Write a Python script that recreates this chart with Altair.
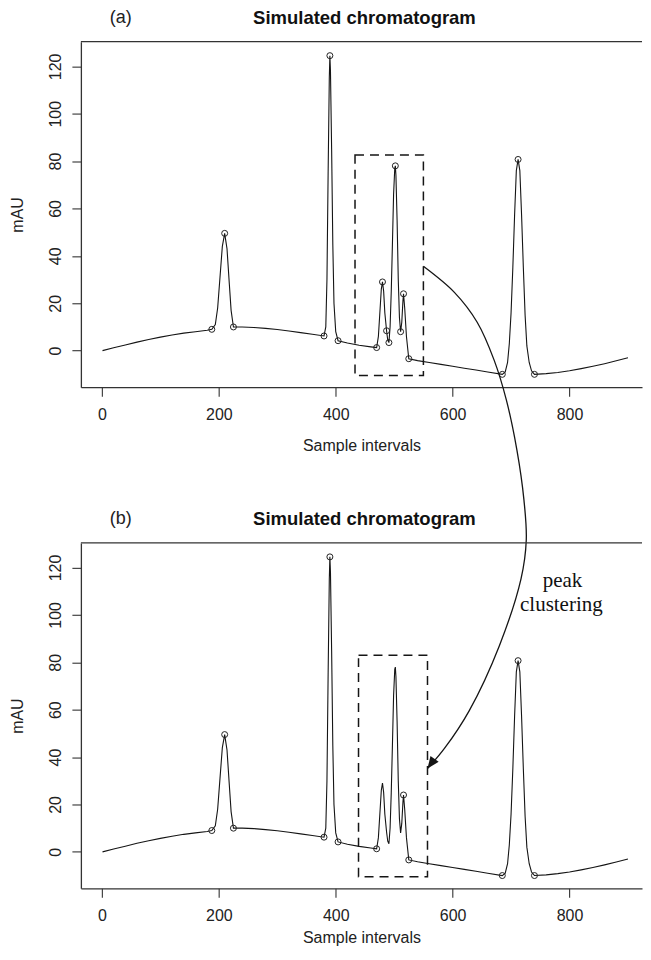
import altair as alt
import pandas as pd

# ---------------- data ----------------
# chromatogram trace (sample interval, mAU)
trace_x = [1, 20, 40, 60, 80, 100, 120, 140, 160, 180, 188,
           194, 198, 202, 206, 210, 214, 218, 221, 225,
           240, 260, 280, 300, 320, 340, 360, 380,
           383, 385, 387, 389, 390, 391, 393, 395, 397, 400, 404,
           420, 440, 460, 470,
           473, 476, 478, 480, 482, 484, 487, 489, 491, 493, 495, 497, 499, 501, 502,
           503, 505, 507, 509, 511, 513, 515, 516, 518, 521, 525,
           540, 560, 580, 600, 620, 640, 660, 685,
           690, 694, 697, 700, 703, 706, 709, 712, 715, 718, 721, 724, 727, 731, 735, 740,
           760, 780, 800, 820, 840, 860, 880, 900]
trace_y = [0.0, 1.2, 2.4, 3.6, 4.7, 5.7, 6.6, 7.4, 8.0, 8.6, 9.0,
           11, 18, 31, 44, 49.5, 43, 28, 17, 10,
           10.0, 9.8, 9.4, 8.9, 8.3, 7.6, 6.9, 6.2,
           10, 30, 75, 115, 124.5, 118, 85, 45, 20, 8, 4.2,
           3.2, 2.3, 1.6, 1.3,
           6, 18, 26, 29, 25, 16, 8.4, 4.5, 3.4, 10, 25, 45, 66, 77, 78,
           74, 55, 30, 14, 8, 12, 21, 24, 18, 6, -3.4,
           -4.2, -5.0, -5.8, -6.6, -7.4, -8.2, -9.0, -10.0,
           -9.0, -5, 3, 16, 35, 57, 76, 80.7, 76, 57, 35, 15, 2, -5, -8.5, -10.0,
           -9.7, -9.2, -8.5, -7.6, -6.6, -5.5, -4.3, -3.0]

# detected peak boundaries / apexes (circles)
circ_a_x = [188, 210, 225, 380, 390, 404, 470, 480, 487, 491, 502, 511, 516, 525, 685, 712, 740]
circ_a_y = [9.0, 49.5, 10.0, 6.2, 124.5, 4.2, 1.3, 29, 8.4, 3.4, 78, 8, 24, -3.4, -10, 80.7, -10]
circ_b_x = [188, 210, 225, 380, 390, 404, 470, 516, 525, 685, 712, 740]
circ_b_y = [9.0, 49.5, 10.0, 6.2, 124.5, 4.2, 1.3, 24, -3.4, -10, 80.7, -10]

# dashed boxes (x from, x to, y from, y to)
box_a = [433, 550, -10.5, 82.6]
box_b = [439, 557, -10.5, 83.0]

# curved arrow, in panel (a) data units (it runs down into panel b)
arrow_x = [550, 603, 642, 671, 692, 710, 722, 726, 717, 680, 628.5, 586, 557]
arrow_y = [35.6, 24.6, 12.0, -4.0, -20.9, -42.0, -63.0, -79.9, -96.3, -124.5, -151.9, -167.9, -176.4]

# annotation text (panel b data units)
ann_text = ["peak", "clustering"]
ann_x = [788, 786]
ann_y = [114.5, 104.0]

x_ticks = [0, 200, 400, 600, 800]
y_ticks = [0, 20, 40, 60, 80, 100, 120]
title_text = "Simulated chromatogram"

# ---------------- chart ----------------
W, H = 562, 346
FONT = "Liberation Sans"
INK = "#151515"
FRAME = "#333333"

xs = alt.Scale(domain=[-36, 924], nice=False, zero=False)
ys = alt.Scale(domain=[-15.4, 130.4], nice=False, zero=False)


def make_axes(title_y):
    ax_x = alt.Axis(values=x_ticks, title="Sample intervals", grid=False,
                    domain=True, domainColor=FRAME, domainWidth=1.3,
                    tickSize=9, tickColor=FRAME, tickWidth=1.1,
                    labelFont=FONT, labelFontSize=16, labelColor="#222", labelPadding=10,
                    titleFont=FONT, titleFontSize=16, titleFontWeight="normal", titleColor="#222",
                    titleY=title_y, titleBaseline="middle", labelFlush=False)
    ax_y = alt.Axis(values=y_ticks, title="mAU", grid=False,
                    domain=True, domainColor=FRAME, domainWidth=1.3,
                    tickSize=9, tickColor=FRAME, tickWidth=1.1,
                    labelFont=FONT, labelFontSize=16, labelColor="#222", labelPadding=8,
                    labelAngle=270, labelAlign="center", labelBaseline="bottom",
                    titleFont=FONT, titleFontSize=16, titleFontWeight="normal", titleColor="#222",
                    titleX=-63, titleY=H / 2, titleAngle=270, titleAlign="center",
                    titleBaseline="middle", labelFlush=False)
    return ax_x, ax_y


trace_df = pd.DataFrame({"x": trace_x, "y": trace_y})


def panel(tag, cx, cy, box, extra_fn, title_y):
    ax_x, ax_y = make_axes(title_y)

    def X(field="x"):
        return alt.X(f"{field}:Q", scale=xs, axis=ax_x)

    def Y(field="y"):
        return alt.Y(f"{field}:Q", scale=ys, axis=ax_y)

    line = alt.Chart(trace_df).mark_line(color=INK, strokeWidth=1.1).encode(x=X(), y=Y())
    circles = alt.Chart(pd.DataFrame({"x": cx, "y": cy})).mark_point(
        shape="circle", filled=False, size=36, strokeWidth=1, color="#222", opacity=1
    ).encode(x=X(), y=Y())
    bdf = pd.DataFrame({"x": [box[0]], "x2": [box[1]], "y": [box[2]], "y2": [box[3]]})
    rect = alt.Chart(bdf).mark_rect(filled=False, stroke=INK, strokeWidth=1.5,
                                    strokeDash=[9, 6]).encode(
        x=X(), x2="x2:Q", y=Y(), y2="y2:Q")
    one = pd.DataFrame({"t": [tag], "h": [title_text]})
    top = alt.Chart(one).mark_rule(color=FRAME, strokeWidth=1.3).encode(
        x=alt.value(0), x2=alt.value(W), y=alt.value(0))
    lab = alt.Chart(one).mark_text(font=FONT, fontSize=18, color="#222", align="center",
                                   baseline="middle").encode(
        text="t:N", x=alt.value(40), y=alt.value(-23.5))
    ttl = alt.Chart(one).mark_text(font=FONT, fontSize=18.5, fontWeight="bold", color="#111",
                                   align="center", baseline="middle").encode(
        text="h:N", x=alt.value(284), y=alt.value(-23.5))
    return alt.layer(top, line, circles, rect, lab, ttl, *extra_fn(X, Y)).properties(
        width=W, height=H)


arrow_df = pd.DataFrame({"x": arrow_x, "y": arrow_y, "i": list(range(len(arrow_x)))})


def arrow_layers(X, Y):
    arrow = alt.Chart(arrow_df).mark_line(color=INK, strokeWidth=1.3,
                                          interpolate="catmull-rom").encode(
        x=X(), y=Y(), order="i:Q")
    head = alt.Chart(arrow_df.tail(1)).mark_point(
        shape="M0,0 L-0.42,1 L0.42,1 Z", filled=True, size=580, angle=216,
        color=INK, opacity=1).encode(x=X(), y=Y())
    return [arrow, head]


def ann_layers(X, Y):
    ann = alt.Chart(pd.DataFrame({"x": ann_x, "y": ann_y, "t": ann_text})).mark_text(
        font="Liberation Serif", fontSize=21, color="#111", align="center", baseline="middle"
    ).encode(x=X(), y=Y(), text="t:N")
    return [ann]


panel_a = panel("(a)", circ_a_x, circ_a_y, box_a, arrow_layers, 58)
panel_b = panel("(b)", circ_b_x, circ_b_y, box_b, ann_layers, 49)

chart = alt.vconcat(panel_a, panel_b, spacing=156, bounds="flush").properties(
    padding={"left": 2, "top": 0, "right": 0, "bottom": 0}
).configure_view(stroke=None)

chart.save("out.html", embed_options={"renderer": "svg", "actions": False})
